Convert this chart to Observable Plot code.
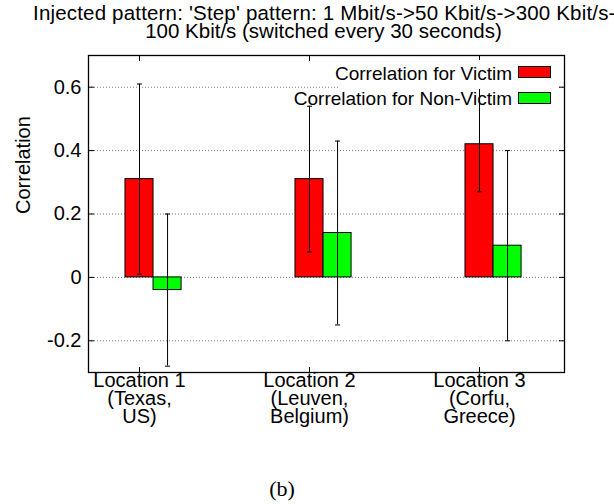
<!DOCTYPE html>
<html>
<head>
<meta charset="utf-8">
<script src="https://cdn.jsdelivr.net/npm/d3@7"></script>
<script src="https://cdn.jsdelivr.net/npm/@observablehq/plot@0.6"></script>
<style>
  body { margin: 0; background: #fff; }
  #wrap { position: relative; width: 614px; height: 504px; overflow: hidden; background: #fff;
          font-family: "Liberation Sans", Arial, Helvetica, sans-serif; color: #000; }
  #wrap svg { position: absolute; left: 0; top: 0; }
  .t { position: absolute; font-size: 20.5px; line-height: 1; white-space: nowrap; }
  #t0 { left: 33px; letter-spacing: 0.18px; }
  #t1 { left: 0; width: 647px; text-align: center; }
  .leg { position: absolute; right: 102px; font-size: 19px; line-height: 1; white-space: nowrap; text-align: right; }
  .sw { position: absolute; left: 518px; width: 33px; height: 12px; box-sizing: border-box; border: 1px solid #000; }
  #legbg { position: absolute; left: 340px; top: 60px; width: 217px; height: 29px; background: #fff; }
  #cap { position: absolute; left: 232px; width: 100px; top: 478px; text-align: center;
         font-family: "Liberation Serif", "Times New Roman", serif; font-size: 22px; line-height: 1; }
</style>
</head>
<body>
<div id="wrap"></div>
<script>
// ---- data ----
const locations = ["Location 1\n(Texas,\nUS)", "Location 2\n(Leuven,\nBelgium)", "Location 3\n(Corfu,\nGreece)"];
const seriesNames = ["Correlation for Victim", "Correlation for Non-Victim"];
const seriesColors = ["#ff0000", "#00ff00"];
const victim = [0.31, 0.31, 0.42];
const victimLow = [0.01, 0.08, 0.27];
const victimHigh = [0.61, 0.54, 0.62];
const nonVictim = [-0.04, 0.14, 0.10];
const nonVictimLow = [-0.28, -0.15, -0.20];
const nonVictimHigh = [0.20, 0.43, 0.40];
const yTicks = [-0.2, 0, 0.2, 0.4, 0.6];
const yTickLabels = ["-0.2", "0", "0.2", "0.4", "0.6"];
const titleLines = ["Injected pattern: 'Step' pattern: 1 Mbit/s->50 Kbit/s->300 Kbit/s->", "100 Kbit/s (switched every 30 seconds)"];
const yLabel = "Correlation";
const caption = "(b)";

// ---- build table ----
const BW = 0.165;       // bar width in x units
const CAP = 0.015;      // half width of error-bar caps
const xIdx = locations.map((_, i) => i);
const bars = [];
xIdx.forEach(i => {
  bars.push({series: 0, x1: i - BW / 2, x2: i + BW / 2, cx: i, v: victim[i], lo: victimLow[i], hi: victimHigh[i]});
  bars.push({series: 1, x1: i + BW / 2, x2: i + 1.5 * BW, cx: i + BW, v: nonVictim[i], lo: nonVictimLow[i], hi: nonVictimHigh[i]});
});
const caps = bars.flatMap(b => [{x1: b.cx - CAP, x2: b.cx + CAP, y: b.lo}, {x1: b.cx - CAP, x2: b.cx + CAP, y: b.hi}]);

const plot = Plot.plot({
  width: 614, height: 504,
  marginLeft: 88, marginRight: 50, marginTop: 55, marginBottom: 132,
  style: {fontFamily: '"Liberation Sans", Arial, Helvetica, sans-serif', fontSize: "20px", color: "#000", background: "transparent", overflow: "visible"},
  x: {type: "linear", domain: [-0.3, 2.5]},
  y: {domain: [-0.3, 0.7]},
  marks: [
    Plot.gridY(yTicks, {stroke: "#777", strokeOpacity: 1, strokeDasharray: "1,2"}),
    Plot.rect(bars, {x1: "x1", x2: "x2", y1: 0, y2: "v", fill: d => seriesColors[d.series], stroke: "#000", strokeWidth: 1}),
    Plot.ruleX(bars, {x: "cx", y1: "lo", y2: "hi", stroke: "#000", strokeWidth: 1}),
    Plot.link(caps, {x1: "x1", x2: "x2", y1: "y", y2: "y", stroke: "#000", strokeWidth: 1}),
    Plot.frame({stroke: "#000", strokeWidth: 1.3}),
    // inward ticks
    Plot.axisX(xIdx, {anchor: "bottom", tickSize: -5, tickFormat: () => "", label: null}),
    Plot.axisX(xIdx, {anchor: "top", tickSize: -5, tickFormat: () => "", label: null}),
    Plot.axisY(yTicks, {anchor: "left", tickSize: -6, tickFormat: () => "", label: null}),
    Plot.axisY(yTicks, {anchor: "right", tickSize: -6, tickFormat: () => "", label: null}),
    // labels
    Plot.axisX(xIdx, {anchor: "bottom", tickSize: 0, tickPadding: 1, tickFormat: i => locations[i], lineHeight: 0.92, fontSize: 20, label: null}),
    Plot.axisY(yTicks, {anchor: "left", tickSize: 0, tickPadding: 7, tickFormat: (d, i) => yTickLabels[yTicks.indexOf(d)], fontSize: 20, label: null}),
    Plot.text([yLabel], {frameAnchor: "left", rotate: -90, dx: -65, fontSize: 20})
  ]
});

const wrap = document.getElementById("wrap");
wrap.appendChild(plot);

// title
titleLines.forEach((s, k) => {
  const d = document.createElement("div");
  d.className = "t";
  d.id = "t" + k;
  d.style.top = (k === 0 ? 3 : 21) + "px";
  d.textContent = s;
  wrap.appendChild(d);
});

// legend (opaque key region)
const bg = document.createElement("div");
bg.id = "legbg";
wrap.appendChild(bg);
seriesNames.forEach((s, k) => {
  const t = document.createElement("div");
  t.className = "leg";
  t.style.top = (k === 0 ? 64 : 89) + "px";
  t.textContent = s;
  wrap.appendChild(t);
  const sw = document.createElement("div");
  sw.className = "sw";
  sw.style.top = (k === 0 ? 66 : 91.5) + "px";
  sw.style.background = seriesColors[k];
  wrap.appendChild(sw);
});

// caption
const cap = document.createElement("div");
cap.id = "cap";
cap.textContent = caption;
wrap.appendChild(cap);
</script>
</body>
</html>
